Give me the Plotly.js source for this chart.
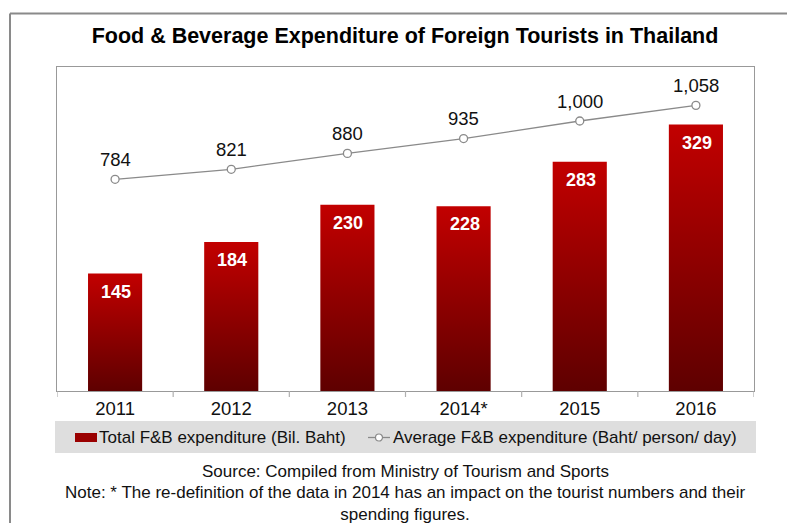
<!DOCTYPE html>
<html>
<head>
<meta charset="utf-8">
<script src="https://cdn.plot.ly/plotly-3.0.1.min.js"></script>
<style>
html,body{margin:0;padding:0;background:#fff;}
#chart{width:787px;height:523px;}
</style>
</head>
<body>
<div id="chart"></div>
<script>
// ---- data ----
const years = ['2011', '2012', '2013', '2014*', '2015', '2016'];
const totalFB = [145, 184, 230, 228, 283, 329];       // Bil. Baht
const avgFB = [784, 821, 880, 935, 1000, 1058];        // Baht/person/day
const avgLabels = ['784', '821', '880', '935', '1,000', '1,058'];
const seriesNames = ['Total F&B expenditure (Bil. Baht)', 'Average F&B expenditure (Baht/ person/ day)'];
const titleText = 'Food & Beverage Expenditure of Foreign Tourists in Thailand';
const sourceText = 'Source: Compiled from Ministry of Tourism and Sports';
const noteText = 'Note: * The re-definition of the data in 2014 has an impact on the tourist numbers and their<br>spending figures.';

// ---- geometry helpers ----
const W = 787, H = 523;
const M = {l: 57, r: 33, t: 67, b: 132};
const PW = W - M.l - M.r, PH = H - M.t - M.b;
const px2x = px => (px - M.l) / PW;
const px2y = py => (H - M.b - py) / PH;

const FONT = 'Liberation Sans, Arial, Helvetica, sans-serif';
const idx = years.map((_, i) => i);
const halfW = 0.233;

const traces = [];
// bars with vertical gradient
totalFB.forEach((v, i) => {
  traces.push({
    type: 'scatter',
    x: [i - halfW, i + halfW],
    y: [v, v],
    mode: 'none',
    fill: 'tozeroy',
    fillcolor: '#900000',
    fillgradient: {type: 'vertical', start: 0, stop: v, colorscale: [[0, '#5e0000'], [1, '#c20000']]},
    hoverinfo: 'skip',
    showlegend: false,
    xaxis: 'x', yaxis: 'y'
  });
});
// line
traces.push({
  type: 'scatter',
  x: idx,
  y: avgFB,
  mode: 'lines+markers',
  line: {color: '#8a8a8a', width: 1.3},
  marker: {symbol: 'circle', size: 8, color: '#ffffff', line: {color: '#8a8a8a', width: 1.3}},
  showlegend: false,
  xaxis: 'x', yaxis: 'y2'
});

const annotations = [];
totalFB.forEach((v, i) => {
  annotations.push({x: i, y: v, xref: 'x', yref: 'y', text: String(v), showarrow: false,
    yshift: -18, xshift: 1, font: {family: FONT, size: 18, color: '#ffffff', weight: 'bold'}});
});
avgFB.forEach((v, i) => {
  annotations.push({x: i, y: v, xref: 'x', yref: 'y2', text: avgLabels[i], showarrow: false,
    yshift: 20, font: {family: FONT, size: 18.5, color: '#111111'}});
});
// legend text
annotations.push({x: px2x(97), y: px2y(437), xref: 'paper', yref: 'paper', xanchor: 'left', yanchor: 'middle',
  text: seriesNames[0], showarrow: false, font: {family: FONT, size: 17, color: '#111'}});
annotations.push({x: px2x(391), y: px2y(437), xref: 'paper', yref: 'paper', xanchor: 'left', yanchor: 'middle',
  text: seriesNames[1], showarrow: false, font: {family: FONT, size: 17, color: '#111'}});
// source & note
annotations.push({x: px2x(405), y: px2y(471), xref: 'paper', yref: 'paper', xanchor: 'center', yanchor: 'middle',
  text: sourceText, showarrow: false, font: {family: FONT, size: 17, color: '#111'}});
annotations.push({x: px2x(405), y: px2y(503), xref: 'paper', yref: 'paper', xanchor: 'center', yanchor: 'middle',
  text: noteText, showarrow: false, font: {family: FONT, size: 17, color: '#111'}});

const shapes = [];
// outer frame
shapes.push({type: 'line', xref: 'paper', yref: 'paper', x0: px2x(10), y0: px2y(13.5), x1: px2x(800), y1: px2y(13.5), line: {color: '#8a8a8a', width: 2}});
shapes.push({type: 'line', xref: 'paper', yref: 'paper', x0: px2x(10), y0: px2y(13.5), x1: px2x(10), y1: px2y(540), line: {color: '#8a8a8a', width: 2}});
// legend background
shapes.push({type: 'rect', xref: 'paper', yref: 'paper', x0: px2x(55), y0: px2y(421), x1: px2x(756), y1: px2y(453), fillcolor: '#dedede', line: {width: 0}, layer: 'below'});
// legend swatches
shapes.push({type: 'rect', xref: 'paper', yref: 'paper', x0: px2x(75), y0: px2y(433), x1: px2x(97), y1: px2y(442), fillcolor: '#9a0000', line: {width: 0}});
shapes.push({type: 'line', xref: 'paper', yref: 'paper', x0: px2x(368), y0: px2y(437.5), x1: px2x(390), y1: px2y(437.5), line: {color: '#8a8a8a', width: 1.3}});
shapes.push({type: 'circle', xref: 'paper', yref: 'paper', x0: px2x(375.5), y0: px2y(434), x1: px2x(382.5), y1: px2y(441), fillcolor: '#ffffff', line: {color: '#8a8a8a', width: 1.2}});
// category boundary ticks
for (let i = 0; i <= years.length; i++) {
  shapes.push({type: 'line', xref: 'x', yref: 'paper', x0: i - 0.5, x1: i - 0.5, y0: 0, y1: px2y(397), line: {color: '#b0b0b0', width: 1.2}});
}

const layout = {
  width: W, height: H,
  margin: M,
  paper_bgcolor: '#ffffff',
  plot_bgcolor: '#ffffff',
  showlegend: false,
  title: {text: '<b>' + titleText + '</b>', x: px2x(405), xref: 'paper', xanchor: 'center',
    y: 1 - 35 / H, yref: 'container', yanchor: 'middle',
    font: {family: FONT, size: 21.5, color: '#000'}},
  xaxis: {
    range: [-0.5, years.length - 0.5],
    tickmode: 'array', tickvals: idx, ticktext: years,
    ticks: '', showgrid: false, zeroline: false,
    showline: true, linecolor: '#999999', linewidth: 1.3, mirror: true,
    tickfont: {family: FONT, size: 18.5, color: '#111'},
    fixedrange: true
  },
  yaxis: {
    range: [0, 400], showticklabels: false, ticks: '', showgrid: false, zeroline: false,
    showline: true, linecolor: '#999999', linewidth: 1, mirror: true, fixedrange: true
  },
  yaxis2: {
    range: [0, 1200], overlaying: 'y', side: 'right', showticklabels: false, ticks: '',
    showgrid: false, zeroline: false, showline: false, fixedrange: true
  },
  shapes: shapes,
  annotations: annotations
};

Plotly.newPlot('chart', traces, layout, {displayModeBar: false, staticPlot: true});
</script>
</body>
</html>
